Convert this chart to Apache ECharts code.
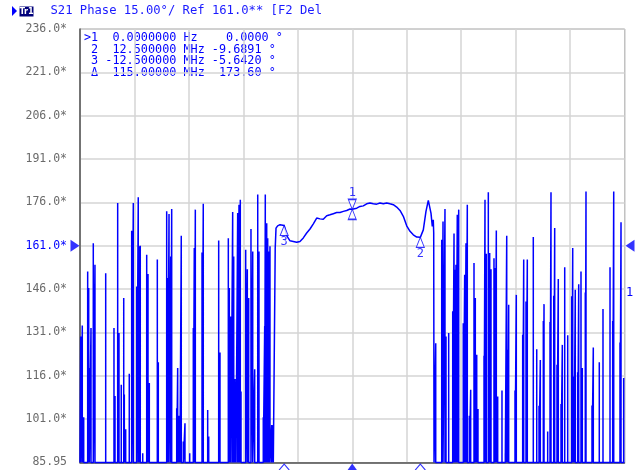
<!DOCTYPE html>
<html>
<head>
<meta charset="utf-8">
<script src="https://cdn.jsdelivr.net/npm/echarts@6/dist/echarts.min.js"></script>
<style>
html,body{margin:0;padding:0;background:#fff;}
#chart{width:635px;height:470px;}
</style>
</head>
<body>
<div id="chart"></div>
<script>
// ---- axis settings ----
const freqMin = -50, freqMax = 50, freqStep = 10;          // MHz
const phaseMin = 86, phaseMax = 236, phaseStep = 15;        // degrees
const refLevel = 161;
const floorDeg = 86; // display clamps off-scale readings to the bottom line
const yTickLabels = ['85.95','101.0*','116.0*','131.0*','146.0*','161.0*','176.0*','191.0*','206.0*','221.0*','236.0*'];

// ---- noisy (wrapped) phase spikes, left of the passband ----
const leftMHz = [-49.87,-49.58,-49.32,-48.59,-48.40,-48.29,-47.98,-47.56,-47.25,-45.28,
  -43.76,-43.57,-43.08,-42.84,-42.42,-41.97,-41.86,-41.61,-40.95,-40.51,
  -40.21,-39.59,-39.30,-39.16,-38.93,-38.48,-37.75,-37.51,-37.27,-35.80,
  -35.62,-34.08,-33.89,-33.65,-33.34,-33.16,-32.24,-32.06,-31.82,-31.64,
  -31.40,-31.03,-30.72,-29.85,-29.19,-29.01,-28.82,-27.59,-27.36,-26.55,
  -26.36,-24.53,-24.29,-22.76,-22.58,-22.32,-22.27,-21.96,-21.77,-21.53,
  -21.35,-21.04,-20.80,-20.61,-20.56,-20.43,-19.57,-19.27,-19.02,-18.60,
  -18.28,-17.92,-17.36,-17.13,-16.34,-16.08,-15.97,-15.71,-15.53,-15.34,
  -15.11,-14.79,-14.50];
const leftDeg = [129.6,133.4,101.7,152.1,146.4,118.7,132.5,161.9,154.4,151.5,
  132.5,109.0,175.8,130.8,112.9,142.9,109.5,97.5,116.7,166.2,
  175.8,146.9,177.8,160.8,161.0,89.2,157.9,151.2,113.5,156.2,
  120.7,172.9,149.8,172.0,157.3,173.7,104.8,118.7,102.2,94.1,
  164.5,93.3,99.6,89.2,132.5,160.2,173.5,158.7,175.5,104.2,
  95.0,162.8,124.1,163.6,146.4,136.5,114.9,172.7,157.3,114.9,
  110.0,172.3,175.2,171.2,176.9,110.6,159.6,152.9,142.9,166.8,
  159.0,118.3,178.7,159.0,101.7,133.1,178.7,168.8,163.6,159.0,
  160.8,99.0,99.0];

// ---- passband phase curve ----
const curveMHz = [-14.25,-14.15,-14.0,-13.7,-13.27,-12.5,-12.04,-11.43,-10.83,-10.20,
  -9.60,-8.99,-8.37,-7.76,-7.15,-6.53,-5.92,-5.32,-4.69,-4.09,
  -3.48,-2.86,-2.25,-1.64,-1.02,-0.41,0,0.82,1.42,2.03,
  2.65,3.26,3.87,4.49,5.10,5.70,6.33,6.93,7.54,8.16,
  8.77,9.38,10.0,10.61,11.21,11.84,12.5,13.05,13.54,13.97,
  14.28,14.46,14.70,14.88,14.96,15.02];
const curveDeg = [86,160,167.1,167.9,168.3,168.0,164.5,162.7,162.5,162.2,
  162.5,163.7,165.4,166.8,168.6,170.6,170.3,170.2,171.4,171.7,
  172.1,172.5,172.5,172.9,173.2,173.7,173.6,174.0,174.6,174.8,
  175.5,175.8,175.5,175.4,175.8,175.5,175.8,175.5,175.2,174.4,
  173.2,171.2,167.9,166.0,164.8,164.0,163.9,166.5,172.9,176.7,
  176.3,172.3,167.7,170.0,165.5,86];

// ---- noisy spikes, right of the passband ----
const rightMHz = [15.33,16.43,16.67,17.03,17.22,17.71,18.45,18.69,18.87,19.05,
  19.29,19.55,20.39,20.65,20.89,21.13,21.50,21.75,22.36,22.60,
  22.86,23.09,24.20,24.38,24.62,24.99,25.24,25.48,26.03,26.22,
  26.46,26.71,27.50,28.11,28.37,28.55,28.73,29.89,30.13,31.30,
  31.49,31.91,32.15,33.25,33.88,34.30,34.54,35.09,35.22,35.89,
  36.32,36.50,37.00,37.18,37.60,37.84,38.34,38.58,39.02,39.57,
  40.30,40.49,40.73,40.96,41.40,41.59,42.01,42.25,42.80,42.93,
  44.03,44.27,45.37,46.05,47.34,47.83,48.02,49.17,49.36,49.85];
const rightDeg = [127.3,163.1,169.4,173.7,129.6,130.8,138.3,165.2,152.7,154.4,
  171.7,173.5,134.2,151.0,161.9,175.2,102.2,111.2,155.0,142.9,
  123.3,104.5,122.9,176.9,158.2,179.5,158.5,152.9,156.7,153.3,
  166.3,108.8,110.9,89.2,164.5,125.0,140.6,110.9,144.0,130.2,
  156.2,141.7,156.2,164.0,125.2,105.6,121.5,135.0,140.8,96.7,
  134.6,179.5,143.7,167.1,119.8,149.5,106.2,126.7,153.6,130.0,
  143.5,160.2,115.8,145.8,117.2,147.7,152.1,118.7,144.8,179.8,
  105.7,125.8,120.7,139.1,153.6,135.0,179.8,127.5,169.1,115.2];

// ---- markers ----
const markerNames = ['1','2','3'];
const markerMHz = [0, 12.5, -12.5];
const markerDeg = [173.6, 163.9, 168.0];
const markerTable = [
  '>1  0.0000000 Hz    0.0000 \u00b0',
  ' 2  12.500000 MHz -9.6891 \u00b0',
  ' 3 -12.500000 MHz -5.6420 \u00b0',
  ' \u0394  115.00000 MHz  173.60 \u00b0'
];
const titleText = 'S21 Phase 15.00\u00b0/ Ref 161.0** [F2 Del';

// ---- build trace table ----
const trace = [[freqMin, floorDeg]];
leftMHz.forEach((f, i) => { trace.push([f, floorDeg], [f, leftDeg[i]], [f, floorDeg]); });
curveMHz.forEach((f, i) => { trace.push([f, curveDeg[i]]); });
rightMHz.forEach((f, i) => { trace.push([f, floorDeg], [f, rightDeg[i]], [f, floorDeg]); });
trace.push([freqMax, floorDeg]);

const BLUE = '#0000ff';
const MONO = '"DejaVu Sans Mono", monospace';

const upTri = 'path://M4,0L8,10L0,10Z';
const hourglass = 'path://M0,0L8,0L4,10L8,20L0,20L4,10Z';
const markerData = markerNames.map((n, i) => {
  const first = i === 0;
  return {
    value: [markerMHz[i], markerDeg[i]],
    symbol: first ? hourglass : upTri,
    symbolSize: first ? [8, 20] : [8, 10],
    symbolOffset: first ? [0, 0] : [0, 5],
    label: {
      show: true, formatter: n, color: BLUE, fontFamily: MONO, fontSize: 12,
      position: first ? 'top' : 'bottom', distance: 0
    }
  };
});

const axisMarkData = markerMHz.map((f, i) => ({
  value: [f, phaseMin],
  symbol: i === 0 ? 'triangle' : 'path://M0,6L5,0L10,6',
  symbolSize: i === 0 ? [10, 7] : [10, 6],
  symbolOffset: [0, 4.5],
  itemStyle: i === 0 ? { color: BLUE } : { color: 'none', borderColor: BLUE, borderWidth: 1 }
}));

const chart = echarts.init(document.getElementById('chart'));
const graphic = [
  { type: 'polygon', shape: { points: [[12, 6], [17, 11], [12, 16]] }, style: { fill: BLUE } },
  { type: 'rect', shape: { x: 19.5, y: 6.5, width: 14, height: 10 }, style: { fill: '#00007a' } },
  { type: 'text', x: 26.5, y: 11.5, style: { text: 'Tr1', fill: '#fff', font: 'bold 9px "DejaVu Sans Condensed", "DejaVu Sans"', align: 'center', verticalAlign: 'middle' } },
  { type: 'text', x: 50.5, y: 11, style: { text: titleText, fill: '#1a1aff', font: '12.2px ' + MONO, verticalAlign: 'middle' } },
  { type: 'text', x: 626, y: 293, style: { text: '1', fill: BLUE, font: '12px ' + MONO, verticalAlign: 'middle' } }
];
markerTable.forEach((t, i) => {
  graphic.push({ type: 'text', x: 84, y: 38 + i * 11.7, style: { text: t, fill: BLUE, font: '11.8px ' + MONO, verticalAlign: 'middle' } });
});

chart.setOption({
  animation: false,
  backgroundColor: '#fff',
  grid: { left: 80, right: 10.5, top: 29, bottom: 7.5, show: true, borderColor: '#8a8a8a', borderWidth: 1, backgroundColor: '#fff' },
  xAxis: {
    type: 'value', min: freqMin, max: freqMax, interval: freqStep,
    axisLabel: { show: false }, axisTick: { show: false },
    axisLine: { show: true, onZero: false, lineStyle: { color: '#555', width: 1.5 } },
    splitLine: { show: true, lineStyle: { color: '#d4d4d4', width: 1.5 } }
  },
  yAxis: {
    type: 'value', min: phaseMin, max: phaseMax, interval: phaseStep,
    axisTick: { show: false },
    axisLine: { show: true, onZero: false, lineStyle: { color: '#555', width: 1.5 } },
    splitLine: { show: true, lineStyle: { color: '#d4d4d4', width: 1.5 } },
    axisLabel: {
      margin: 13, fontFamily: MONO, fontSize: 11.5, color: '#6a6a6a',
      formatter: (v) => {
        const k = Math.round((v - phaseMin) / phaseStep);
        const s = yTickLabels[k];
        return Math.abs(v - refLevel) < 0.01 ? '{r|' + s + '}' : s;
      },
      rich: { r: { color: BLUE, fontFamily: MONO, fontSize: 11.5 } }
    }
  },
  graphic: graphic,
  series: [
    {
      type: 'line', data: trace, showSymbol: false, symbol: 'none', clip: false,
      lineStyle: { color: BLUE, width: 1.5, join: 'bevel' }, z: 3
    },
    {
      type: 'scatter', data: markerData, clip: false, z: 4,
      itemStyle: { color: '#fff', borderColor: BLUE, borderWidth: 1 }
    },
    {
      type: 'scatter', data: axisMarkData, clip: false, z: 4
    },
    {
      type: 'scatter', clip: false, z: 4,
      data: [
        { value: [freqMin, refLevel], symbol: 'path://M0,0L9,6L0,12Z', symbolSize: [9, 12], symbolOffset: [-5, 0] },
        { value: [freqMax, refLevel], symbol: 'path://M9,0L0,6L9,12Z', symbolSize: [9, 12], symbolOffset: [5.5, 0] }
      ],
      itemStyle: { color: BLUE }
    }
  ]
});
</script>
</body>
</html>
